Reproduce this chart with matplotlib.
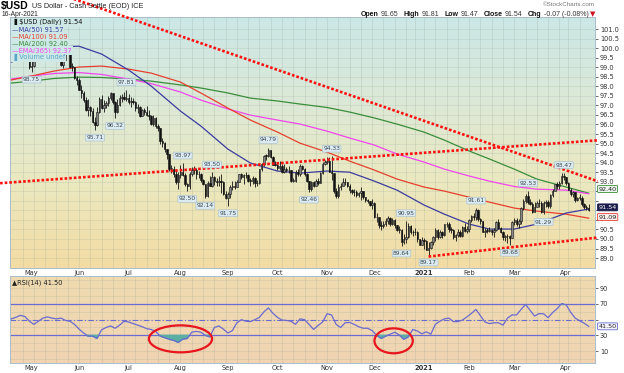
import numpy as np
import pandas as pd
import matplotlib
matplotlib.use("Agg")
import matplotlib.pyplot as plt
from matplotlib.colors import LinearSegmentedColormap
from matplotlib.patches import Ellipse

# ---------------------------------------------------------------- data
start_date = "2020-04-20"
end_date = "2021-04-16"
holidays = ["2020-12-25", "2021-01-01", "2021-04-02"]

# daily closes, one row per month (Apr 2020 .. Apr 2021)
closes = [
    99.93, 100.25, 100.42, 100.44, 100.37, 100.02, 99.90, 99.55, 99.02,
    99.07, 99.54, 99.79, 100.11, 99.72, 99.75, 100.19, 99.94, 100.21, 100.45, 100.39, 99.63, 99.68, 99.14, 99.38, 99.85, 99.84, 99.03, 99.02, 98.44, 98.34,
    97.83, 97.67, 97.30, 96.74, 96.93, 96.69, 96.13, 95.98, 96.67, 97.32, 96.86, 97.04, 97.12, 97.38, 97.63, 97.20, 96.64, 97.04, 97.40, 97.44, 97.36, 97.39,
    97.18, 97.22, 97.18, 96.84, 96.91, 96.45, 96.77, 96.65, 96.47, 96.46, 96.00, 96.34, 95.93, 95.80, 95.12, 95.04, 94.69, 94.44, 93.67, 93.69, 93.42, 93.00, 93.35,
    93.52, 93.37, 92.87, 92.79, 93.43, 93.63, 93.63, 93.43, 93.38, 93.09, 92.88, 92.27, 92.92, 92.79, 93.24, 93.04, 92.97, 93.02, 93.00, 92.37, 92.14,
    92.35, 92.70, 92.80, 92.72, 92.99, 93.41, 93.25, 93.33, 93.33, 93.05, 93.04, 93.20, 92.92, 92.93, 93.66, 93.95, 94.36, 94.35, 94.64, 94.29, 93.90, 93.89,
    93.72, 93.84, 93.53, 93.68, 93.61, 93.60, 93.06, 93.06, 93.53, 93.40, 93.82, 93.68, 93.43, 93.06, 92.60, 92.96, 92.77, 93.05, 92.93, 93.44, 93.91, 94.04,
    94.11, 93.51, 93.44, 92.52, 92.23, 92.74, 92.75, 92.99, 92.96, 92.76, 92.58, 92.44, 92.45, 92.31, 92.39, 92.51, 92.19, 92.03, 91.99, 91.79, 91.87,
    91.13, 91.13, 90.71, 90.70, 90.80, 90.96, 91.09, 90.80, 90.98, 90.72, 90.47, 90.48, 89.83, 90.02, 90.09, 90.69, 90.37, 90.34, 90.35, 89.99, 89.68, 89.94,
    89.88, 89.44, 89.53, 89.83, 90.10, 90.46, 90.11, 90.35, 90.22, 90.77, 90.79, 90.52, 90.47, 90.09, 90.21, 90.38, 90.16, 90.63, 90.43, 90.54,
    90.99, 91.18, 91.13, 91.53, 91.03, 90.96, 90.39, 90.43, 90.42, 90.48, 90.35, 90.48, 90.91, 90.59, 90.36, 90.10, 90.14, 90.14, 90.07, 90.88,
    91.00, 90.78, 90.94, 91.60, 91.97, 92.27, 91.94, 91.83, 91.40, 91.67, 91.87, 91.88, 91.44, 91.87, 91.93, 91.71, 92.33, 92.53, 92.86, 92.77, 92.94, 93.29, 93.23,
    92.93, 92.59, 92.34, 92.46, 92.05, 92.16, 92.16, 91.84, 91.69, 91.62, 91.54,
]
highs = [
    100.10, 100.38, 100.55, 100.93, 100.64, 100.40, 100.17, 99.97, 99.62,
    99.30, 99.71, 99.90, 100.24, 100.15, 99.95, 100.25, 100.30, 100.35, 100.56, 100.59, 100.45, 99.85, 99.70, 99.48, 99.90, 99.96, 99.88, 99.23, 99.03, 98.55,
    98.45, 98.05, 97.73, 97.44, 97.35, 96.97, 96.88, 96.38, 96.89, 97.45, 97.55, 97.28, 97.25, 97.50, 97.70, 97.65, 97.24, 97.35, 97.52, 97.60, 97.70, 97.81,
    97.58, 97.45, 97.40, 97.22, 97.05, 96.98, 96.82, 96.85, 96.98, 96.75, 96.50, 96.52, 96.40, 96.04, 95.83, 95.30, 95.09, 94.72, 94.46, 93.90, 93.85, 93.63, 93.50,
    93.90, 93.97, 93.44, 92.95, 93.52, 93.78, 93.85, 93.72, 93.58, 93.45, 93.12, 92.90, 93.05, 93.32, 93.50, 93.32, 93.20, 93.32, 93.41, 93.05, 92.50,
    92.48, 92.84, 93.04, 93.05, 93.08, 93.43, 93.48, 93.42, 93.50, 93.38, 93.18, 93.28, 93.26, 93.10, 93.68, 94.00, 94.40, 94.47, 94.79, 94.63, 94.37, 94.10,
    94.02, 94.09, 93.92, 93.91, 93.79, 93.82, 93.60, 93.20, 93.61, 93.68, 93.91, 93.90, 93.70, 93.46, 93.04, 93.05, 93.02, 93.15, 93.20, 93.52, 94.02, 94.15,
    94.30, 94.29, 94.33, 93.28, 92.65, 92.90, 92.92, 93.18, 93.21, 93.01, 92.86, 92.64, 92.64, 92.57, 92.48, 92.74, 92.51, 92.22, 92.10, 92.00, 92.07,
    91.92, 91.35, 91.15, 90.93, 90.93, 91.11, 91.22, 91.15, 91.10, 91.04, 90.75, 90.66, 90.50, 90.25, 90.95, 90.85, 90.73, 90.48, 90.55, 90.42, 90.00, 90.11,
    90.05, 89.97, 89.86, 89.87, 90.14, 90.56, 90.50, 90.45, 90.40, 90.80, 90.90, 90.88, 90.62, 90.50, 90.28, 90.50, 90.45, 90.70, 90.85, 90.68,
    91.05, 91.25, 91.34, 91.61, 91.58, 91.09, 90.95, 90.60, 90.60, 90.62, 90.50, 90.58, 90.95, 91.05, 90.62, 90.42, 90.20, 90.25, 90.20, 90.95,
    91.09, 91.12, 91.05, 91.65, 92.09, 92.36, 92.53, 92.10, 91.95, 91.92, 91.98, 92.10, 91.97, 92.00, 92.05, 92.04, 92.38, 92.60, 92.88, 92.98, 93.05, 93.44, 93.47,
    93.25, 92.99, 92.67, 92.52, 92.47, 92.20, 92.35, 92.24, 91.88, 91.80, 91.81,
]
lows = [
    99.60, 99.88, 100.05, 100.28, 100.12, 99.86, 99.77, 99.44, 98.91,
    98.75, 99.02, 99.44, 99.72, 99.68, 99.65, 99.68, 99.83, 99.90, 100.15, 100.26, 99.60, 99.40, 99.04, 98.97, 99.32, 99.74, 98.94, 98.80, 98.40, 98.09,
    97.80, 97.40, 97.20, 96.72, 96.42, 96.46, 96.10, 95.71, 95.90, 96.60, 96.82, 96.65, 96.86, 96.95, 97.28, 97.08, 96.32, 96.59, 96.95, 97.16, 97.30, 97.22,
    97.08, 96.92, 97.05, 96.73, 96.60, 96.40, 96.43, 96.50, 96.42, 96.21, 95.97, 95.92, 95.80, 95.68, 95.00, 94.80, 94.58, 94.20, 93.55, 93.48, 93.25, 92.88, 92.60,
    93.18, 93.30, 92.80, 92.50, 92.60, 93.32, 93.38, 93.13, 93.20, 92.98, 92.82, 92.14, 92.20, 92.75, 92.70, 92.85, 92.80, 92.75, 92.42, 92.30, 92.08,
    91.75, 92.13, 92.55, 92.60, 92.70, 92.96, 93.14, 92.90, 93.18, 92.98, 92.80, 92.90, 92.70, 92.80, 92.88, 93.56, 93.84, 94.16, 94.30, 94.22, 93.86, 93.80,
    93.62, 93.60, 93.48, 93.44, 93.52, 93.45, 92.98, 92.96, 93.00, 93.30, 93.32, 93.60, 93.30, 92.98, 92.46, 92.53, 92.72, 92.76, 92.84, 92.92, 93.38, 93.86,
    93.92, 93.50, 93.10, 92.40, 92.13, 92.13, 92.57, 92.75, 92.85, 92.74, 92.40, 92.34, 92.24, 92.22, 92.20, 92.02, 92.12, 91.92, 91.86, 91.75, 91.57,
    91.10, 90.91, 90.55, 90.48, 90.58, 90.70, 90.78, 90.70, 90.73, 90.60, 90.40, 90.32, 89.64, 89.73, 89.78, 90.07, 90.28, 90.15, 90.20, 89.84, 89.66, 89.70,
    89.50, 89.41, 89.17, 89.49, 89.70, 89.92, 90.02, 90.03, 90.05, 90.15, 90.64, 90.38, 90.33, 89.99, 89.90, 90.08, 90.10, 90.08, 90.38, 90.30,
    90.34, 90.90, 90.98, 91.00, 90.94, 90.80, 90.35, 90.10, 90.33, 90.35, 90.20, 90.10, 90.43, 90.53, 90.32, 89.95, 89.90, 89.80, 89.68, 90.05,
    90.73, 90.68, 90.60, 90.80, 91.53, 91.88, 91.85, 91.80, 91.34, 91.39, 91.70, 91.68, 91.35, 91.29, 91.65, 91.60, 91.62, 92.20, 92.50, 92.60, 92.60, 92.89, 93.08,
    92.82, 92.55, 92.27, 92.20, 91.94, 91.98, 92.05, 91.75, 91.59, 91.53, 91.47,
]

# moving averages
ma_dates = ["2020-04-20", "2020-05-01", "2020-05-15", "2020-06-01", "2020-06-15", "2020-07-01",
            "2020-07-15", "2020-08-03", "2020-08-14", "2020-09-01", "2020-09-15", "2020-10-01",
            "2020-10-15", "2020-11-02", "2020-11-16", "2020-12-01", "2020-12-15", "2021-01-04",
            "2021-01-15", "2021-02-01", "2021-02-12", "2021-03-01", "2021-03-15", "2021-04-01",
            "2021-04-16"]
ma50 = [99.27, 99.64, 100.06, 100.10, 99.69, 98.85, 98.01, 96.70, 95.92, 94.71, 93.98, 93.56, 93.45,
        93.56, 93.50, 93.03, 92.56, 91.78, 91.30, 90.78, 90.52, 90.52, 90.78, 91.36, 91.57]
ma100 = [98.33, 98.54, 98.80, 99.01, 99.06, 98.90, 98.69, 98.22, 97.65, 96.86, 96.23, 95.60, 95.02,
         94.55, 94.08, 93.61, 93.14, 92.72, 92.51, 92.19, 91.93, 91.62, 91.46, 91.30, 91.09]
ma200 = [98.17, 98.27, 98.41, 98.48, 98.46, 98.38, 98.27, 98.07, 97.91, 97.65, 97.38, 97.23, 97.07,
         96.89, 96.65, 96.34, 96.02, 95.60, 95.18, 94.61, 94.19, 93.66, 93.14, 92.72, 92.40]
ema365 = [98.38, 98.54, 98.67, 98.72, 98.62, 98.38, 98.14, 97.70, 97.28, 96.81, 96.49, 96.23, 96.02,
          95.65, 95.29, 94.92, 94.45, 94.03, 93.66, 93.30, 93.03, 92.75, 92.61, 92.56, 92.37]

# RSI(14), every second session
rsi14 = [51, 53, 55.5, 54, 48, 44, 48, 52, 53.5, 52, 51, 52, 49, 48, 44, 38, 33, 29, 29, 26,
         37, 40, 42, 39, 43, 48, 47, 45, 43, 41, 38.5, 37.5, 35, 29, 27, 25, 23.5, 21, 25, 26,
         34, 35, 34, 30, 28, 40, 42, 38, 33, 36, 46, 50, 48, 47.5, 50, 53, 60, 65, 58, 53,
         49.5, 49, 48, 44, 51, 50,
         44, 37.5, 42.5, 47, 57.5, 56, 44, 40, 46, 46.5, 44, 41, 39, 39, 36, 30, 26, 29, 31.5, 34,
         30.5, 25, 28, 37.5, 35.5, 32, 34.5, 31.5, 44, 48, 51, 52, 47.5, 47.5, 49.5, 53.5, 58, 63, 55, 47,
         45, 46, 46, 43, 52, 56, 56, 63, 69.5, 62, 54.5, 57.7, 57.5, 52.5, 59, 64, 70.5, 69, 59.5, 52,
         48.5, 45.5, 41.5]

# labelled swing highs / lows
swing_dates = ["2020-05-01", "2020-06-10", "2020-06-23", "2020-06-30", "2020-08-04", "2020-08-06",
               "2020-08-18", "2020-08-21", "2020-09-01", "2020-09-25", "2020-10-21", "2020-11-04",
               "2020-12-17", "2020-12-21", "2021-01-06", "2021-02-04", "2021-02-25", "2021-03-09",
               "2021-03-18", "2021-03-31"]
swing_values = [98.75, 95.71, 96.32, 97.81, 93.97, 92.50, 92.14, 93.50, 91.75, 94.79, 92.46, 94.33,
                89.64, 90.95, 89.17, 91.61, 89.68, 92.53, 91.29, 93.47]
swing_kind = ["L", "L", "L", "H", "H", "L", "L", "H", "L", "H", "L", "H",
              "L", "H", "L", "H", "L", "H", "L", "H"]

# hand drawn trend lines (two anchor points each)
down_line = (["2020-06-01", "2021-04-01"], [102.48, 93.60])
up_line = (["2020-06-01", "2021-04-01"], [93.22, 95.05])
low_line = (["2021-01-06", "2021-04-01"], [89.08, 89.89])

# red circles on the RSI pane: (from, to, rsi low, rsi high)
rsi_circles = [("2020-07-14", "2020-08-21", 8.3, 42.7), ("2020-12-01", "2020-12-24", 7.1, 38.9)]

month_labels = ["May", "Jun", "Jul", "Aug", "Sep", "Oct", "Nov", "Dec", "2021", "Feb", "Mar", "Apr"]

# ---------------------------------------------------------------- setup
days = pd.bdate_range(start_date, end_date)
days = days[~days.isin(pd.to_datetime(holidays))]
days = days[-len(closes):]
pos = {d: i for i, d in enumerate(days)}


def idx(s):
    return pos[pd.Timestamp(s)]


c = np.array(closes)
h = np.array(highs)
l = np.array(lows)
o = np.r_[c[0], c[:-1]]
x = np.arange(len(c))

W, H = 624, 373
plt.rcParams["font.family"] = ["DejaVu Sans"]
fig = plt.figure(figsize=(W / 100, H / 100), dpi=100)


def fx(px):
    return px / W


def fy(py):
    return 1 - py / H


ax = fig.add_axes([fx(10), fy(268), 585 / W, 251 / H])
ax_r = fig.add_axes([fx(10), fy(363), 585 / W, 87 / H])

xlim = (-0.6, 258.8)
p_lim = (88.48, 101.63)
r_lim = (-5.3, 105.7)


def paint(a, colors, ylim):
    cmap = LinearSegmentedColormap.from_list("bg", colors)
    a.imshow(np.linspace(0, 1, 256).reshape(-1, 1), cmap=cmap, aspect="auto",
             extent=[xlim[0], xlim[1], ylim[0], ylim[1]], origin="upper", zorder=0)
    a.set_xlim(xlim)
    a.set_ylim(ylim)


paint(ax, ["#cbe7e6", "#dce9d7", "#ebe8bf", "#f3dca4"], p_lim)
paint(ax_r, ["#efdbb0", "#f1d4b3"], r_lim)

month_starts = [i for i in range(1, len(days)) if days[i].month != days[i - 1].month]
week_starts = [i for i in range(1, len(days)) if days[i].weekday() < days[i - 1].weekday()]

for a in (ax, ax_r):
    for i in week_starts:
        a.axvline(i, color="#8f9f8f", alpha=0.3, lw=0.5, zorder=1)
    for s in a.spines.values():
        s.set_color("#a9bccb")
        s.set_linewidth(0.7)
    a.set_xticks(month_starts)
    a.set_xticklabels(month_labels)
    a.tick_params(axis="x", length=0, labelsize=4.8, pad=1.5, colors="#333333")
    for t in a.get_xticklabels():
        if t.get_text() == "2021":
            t.set_fontweight("bold")
    a.yaxis.tick_right()
    a.tick_params(axis="y", length=2, width=0.5, labelsize=4.8, pad=1.5, colors="#333333")

# ---------------------------------------------------------------- price pane
p_ticks = np.arange(89.0, 101.01, 0.5)
for v in p_ticks:
    ax.axhline(v, color="#8f9f8f", alpha=0.25, lw=0.5, zorder=1)
ax.set_yticks(p_ticks)
# labels under the value tags are hidden, as on the original
hidden = {"92.5", "92.0", "91.5", "91.0"}
ax.set_yticklabels(["" if f"{v:.1f}" in hidden else f"{v:.1f}" for v in p_ticks])

ma_x = [idx(d) for d in ma_dates]
ax.plot(ma_x, ma200, color="#3a8d3a", lw=0.9, zorder=2)
ax.plot(ma_x, ema365, color="#f046ec", lw=0.9, zorder=2)
ax.plot(ma_x, ma100, color="#e6402e", lw=0.9, zorder=2)
ax.plot(ma_x, ma50, color="#3c3ca0", lw=0.9, zorder=2)

lo = np.minimum(l, np.minimum(o, c))
hi = np.maximum(h, np.maximum(o, c))
ax.vlines(x, lo, hi, color="#111111", lw=0.6, zorder=3)
body_b = np.minimum(o, c)
body_h = np.maximum(np.abs(c - o), 0.03)
up = c >= o
ax.bar(x[up], body_h[up], bottom=body_b[up], width=0.65, facecolor="#8a8a8a",
       edgecolor="#111111", lw=0.4, zorder=4)
ax.bar(x[~up], body_h[~up], bottom=body_b[~up], width=0.65, facecolor="#111111",
       edgecolor="#111111", lw=0.4, zorder=4)


def trend(a, line, x0, x1):
    xs = [idx(d) for d in line[0]]
    k = (line[1][1] - line[1][0]) / (xs[1] - xs[0])
    ys = [line[1][0] + k * (x0 - xs[0]), line[1][0] + k * (x1 - xs[0])]
    a.plot([x0, x1], ys, color="#ff1010", lw=1.9, ls=(0, (1.0, 0.75)),
           clip_on=False, zorder=6)


trend(ax, down_line, 12, 260)
trend(ax, up_line, -5.0, 260)
trend(ax, low_line, idx(low_line[0][0]), 260)

for d, v, k in zip(swing_dates, swing_values, swing_kind):
    off = 5.5 if k == "H" else -5.5
    ax.annotate(f"{v:.2f}", xy=(idx(d), v), xytext=(0, off), textcoords="offset points",
                ha="center", va="center", fontsize=4.3, color="#3a4650", zorder=7,
                bbox=dict(boxstyle="round,pad=0.15", fc="#dcebf1", ec="#a2bccb", lw=0.4))

# right side value tags (nudged apart like the original)
tags = [(ma200[-1], 3.0, "#3a8d3a", "#eef5ee", "#222222"),
        (closes[-1], 1.6, "#1c1c4c", "#1c1c4c", "white"),
        (ma100[-1], 0.8, "#e6402e", "#fbeeee", "#222222")]
for v, dy, ec, fc, tc in tags:
    ax.annotate(f"{v:.2f}", xy=(1.0, v), xycoords=ax.get_yaxis_transform(),
                xytext=(2.5, dy), textcoords="offset points", ha="left", va="center",
                fontsize=4.6, color=tc, annotation_clip=False, zorder=8,
                bbox=dict(boxstyle="round,pad=0.15", fc=fc, ec=ec, lw=0.6))

# legend block
legend_rows = [("\u2590 $USD (Daily) 91.54", "#111111"),
               ("\u2014MA(50) 91.57", "#3c3ca0"),
               ("\u2014MA(100) 91.09", "#e6402e"),
               ("\u2014MA(200) 92.40", "#3a8d3a"),
               ("\u2014EMA(365) 92.37", "#f046ec"),
               ("\u2590 Volume undef", "#5aa6c8")]
for k, (txt, col) in enumerate(legend_rows):
    fig.text(fx(12), fy(22.5 + 7 * k), txt, fontsize=4.8, color=col, va="center", ha="left",
             bbox=dict(fc="#cde8e6", ec="none", pad=0.6))

# ---------------------------------------------------------------- RSI pane
r_x = x[::2][:len(rsi14)]
r = np.array(rsi14)
for v in range(0, 101, 10):
    ax_r.axhline(v, color="#8f9f8f", alpha=0.25, lw=0.5, zorder=1)
ax_r.axhline(70, color="#6a6ad0", lw=0.9, zorder=2)
ax_r.axhline(30, color="#6a6ad0", lw=0.9, zorder=2)
ax_r.axhline(50, color="#6a6ad0", lw=0.8, ls=(0, (5, 2, 1, 2)), zorder=2)
ax_r.fill_between(r_x, r, 30, where=r < 30, interpolate=True, color="#5aaea2", zorder=3)
ax_r.fill_between(r_x, r, 70, where=r > 70, interpolate=True, color="#5aaea2", zorder=3)
ax_r.plot(r_x, r, color="#6a6ad0", lw=0.9, zorder=4)
ax_r.set_yticks([10, 30, 50, 70, 90])
ax_r.set_yticklabels(["10", "30", "", "70", "90"])

for d0, d1, r0, r1 in rsi_circles:
    i0, i1 = idx(d0), idx(d1)
    ax_r.add_patch(Ellipse(((i0 + i1) / 2, (r0 + r1) / 2), i1 - i0, r1 - r0, fill=False,
                           ec="#e8141e", lw=1.6, zorder=6))

ax_r.annotate(f"{rsi14[-1]:.2f}", xy=(1.0, rsi14[-1]), xycoords=ax_r.get_yaxis_transform(),
              xytext=(2.5, 0), textcoords="offset points", ha="left", va="center",
              fontsize=4.6, color="#222222", annotation_clip=False, zorder=8,
              bbox=dict(boxstyle="round,pad=0.15", fc="#f4f4fb", ec="#6a6ad0", lw=0.6))
fig.text(fx(12), fy(282.5), "\u25b2RSI(14) 41.50", fontsize=4.8, color="#222222",
         va="center", ha="left")

# ---------------------------------------------------------------- header
renderer = fig.canvas.get_renderer()
t = fig.text(fx(1), fy(5.5), "$USD", fontsize=7.5, fontweight="bold", va="center", ha="left",
             family="Liberation Sans")
x_after = 1 + t.get_window_extent(renderer).width + 3
fig.text(fx(x_after), fy(6), "US Dollar - Cash Settle (EOD) ICE", fontsize=5.2,
         va="center", ha="left", color="#222222", family="Liberation Sans")
fig.text(fx(2), fy(14.5), "16-Apr-2021", fontsize=4.8, va="center", ha="left",
         color="#222222", family="Liberation Sans")
fig.text(fx(595), fy(5), "\u00a9StockCharts.com", fontsize=4.5, va="center", ha="right",
         color="#777777", family="Liberation Sans")

pieces = [("Open", "bold", "#111111"), ("91.65", "normal", "#333333"),
          ("High", "bold", "#111111"), ("91.81", "normal", "#333333"),
          ("Low", "bold", "#111111"), ("91.47", "normal", "#333333"),
          ("Close", "bold", "#111111"), ("91.54", "normal", "#333333"),
          ("Chg", "bold", "#111111"), ("-0.07 (-0.08%)", "normal", "#333333"),
          ("\u25bc", "normal", "#cc1122")]
objs = []
for s, wgt, col in pieces:
    fam = "DejaVu Sans" if s == "\u25bc" else "Liberation Sans"
    objs.append(fig.text(0, fy(14.5), s, fontsize=5, fontweight=wgt, color=col,
                         va="center", ha="left", family=fam))
widths = [tt.get_window_extent(renderer).width for tt in objs]
gaps = [2.5 if pieces[i][1] == "bold" else 5 for i in range(len(pieces))]
gaps[-2] = 1
xpos = 595 - (sum(widths) + sum(gaps[:-1]))
for tt, w, g in zip(objs, widths, gaps):
    tt.set_x(fx(xpos))
    xpos += w + g

fig.savefig("out.png", dpi=100)
